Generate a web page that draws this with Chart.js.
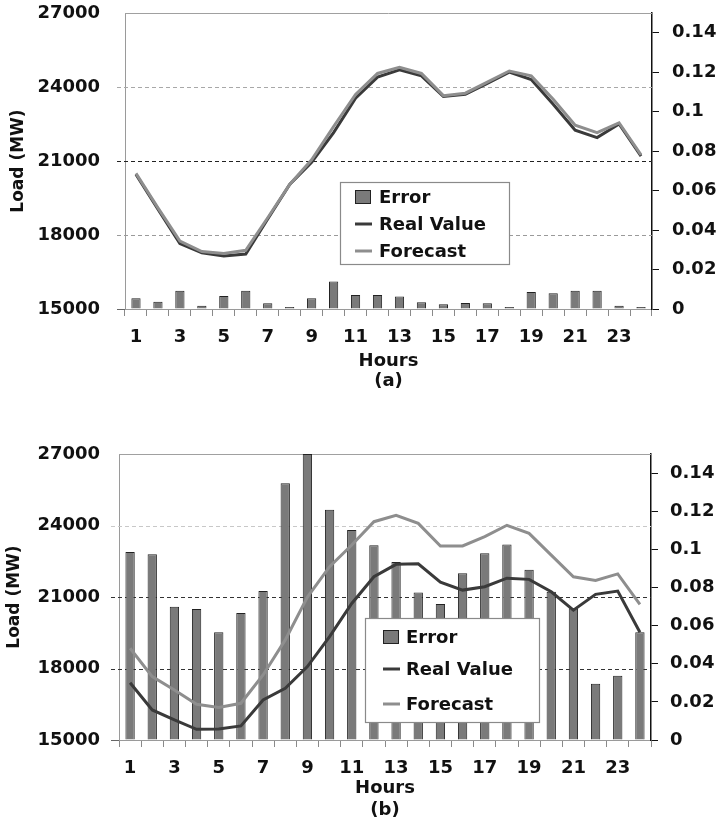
<!DOCTYPE html>
<html>
<head>
<meta charset="utf-8">
<script src="https://cdn.jsdelivr.net/npm/chart.js@4.4.1/dist/chart.umd.min.js"></script>
<style>
  html, body { margin: 0; padding: 0; background: #fff; }
  #wrap { position: relative; width: 720px; height: 826px; overflow: hidden; background: #fff; }
  canvas { position: absolute; left: 0; }
</style>
</head>
<body>
<div id="wrap">
  <canvas id="chartA" width="720" height="400" style="top:0;width:720px;height:400px"></canvas>
  <canvas id="chartB" width="720" height="406" style="top:420px;width:720px;height:406px"></canvas>
</div>
<script>
// Hours of the day (x categories)
const hours = ['1','2','3','4','5','6','7','8','9','10','11','12',
               '13','14','15','16','17','18','19','20','21','22','23','24'];

// Left axis ticks (MW) and right axis ticks (error)
const loadTicks = [15000, 18000, 21000, 24000, 27000];
const errorTicks = [0, 0.02, 0.04, 0.06, 0.08, 0.1, 0.12, 0.14];

// Panel (a)
const realA = [20450, 19050, 17650, 17280, 17150, 17230, 18650, 20050, 20950, 22150, 23550, 24400,
               24700, 24450, 23620, 23700, 24150, 24600, 24300, 23300, 22250, 21950, 22500, 21200];
const forecastA = [20500, 19100, 17750, 17330, 17250, 17380, 18700, 20050, 21050, 22400, 23700, 24550,
                   24800, 24550, 23650, 23750, 24200, 24650, 24450, 23500, 22450, 22150, 22550, 21250];
const errorA = [0.0054, 0.0037, 0.0093, 0.0017, 0.0066, 0.0093, 0.0029, 0.0010, 0.0054, 0.0139, 0.0071, 0.0071,
                0.0063, 0.0034, 0.0024, 0.0030, 0.0029, 0.0010, 0.0086, 0.0080, 0.0093, 0.0093, 0.0017, 0.0010];

// Panel (b)
const realB = [17400, 16260, 15840, 15450, 15460, 15590, 16680, 17170, 18080, 19340, 20730, 21850,
               22370, 22390, 21620, 21290, 21430, 21790, 21740, 21220, 20450, 21110, 21250, 19520];
const forecastB = [18850, 17660, 17100, 16500, 16360, 16540, 17730, 19200, 21000, 22270, 23180, 24160,
                   24430, 24090, 23140, 23140, 23530, 24010, 23670, 22760, 21850, 21690, 21970, 20690];
const errorB = [0.0986, 0.0974, 0.0699, 0.0687, 0.0565, 0.0666, 0.0781, 0.1346, 0.1500, 0.1208, 0.1101, 0.1021,
                0.0934, 0.0773, 0.0713, 0.0874, 0.0979, 0.1026, 0.0893, 0.0778, 0.0691, 0.0295, 0.0337, 0.0565];

const FONT = "'DejaVu Sans', 'Liberation Sans', sans-serif";
const INK = '#111';
const BAR_FILL = '#7a7a7a';
const BAR_EDGE = '#222';
const REAL_COLOR = '#3a3a3a';
const FORECAST_COLOR = '#8e8e8e';

// Keep label overhang from pushing the plot area around
function noScalePadding(sc) {
  sc.paddingTop = 0; sc.paddingBottom = 0; sc.paddingLeft = 0; sc.paddingRight = 0;
}

function buildChart(canvasId, s) {
  // Dashed load grid lines, left tick marks and the top frame edge
  const gridPlugin = {
    id: 'loadGrid',
    beforeDatasetsDraw(chart) {
      const { ctx, chartArea: a, scales } = chart;
      const y = scales.y;
      ctx.save();
      ctx.lineWidth = 1;
      // frame top
      ctx.strokeStyle = '#a0a0a0';
      ctx.beginPath();
      ctx.moveTo(a.left, a.top + 0.5);
      ctx.lineTo(a.right, a.top + 0.5);
      ctx.stroke();
      // tick at the baseline value
      ctx.strokeStyle = '#666';
      const yb = Math.round(y.getPixelForValue(loadTicks[0])) + 0.5;
      ctx.beginPath();
      ctx.moveTo(a.left - 8, yb);
      ctx.lineTo(a.left, yb);
      ctx.stroke();
      // inner dashed lines
      ctx.setLineDash([4, 3]);
      loadTicks.slice(1, -1).forEach((v, i) => {
        const py = Math.round(y.getPixelForValue(v)) + 0.5;
        ctx.strokeStyle = s.gridColors[i];
        ctx.beginPath();
        ctx.moveTo(a.left - 8, py);
        ctx.lineTo(a.right, py);
        ctx.stroke();
      });
      ctx.restore();
    }
  };

  // Boxed legend drawn inside the plot area
  const legendPlugin = {
    id: 'boxLegend',
    afterDatasetsDraw(chart) {
      const { ctx } = chart;
      const L = s.legend;
      ctx.save();
      ctx.fillStyle = '#fff';
      ctx.fillRect(L.x, L.y, L.w, L.h);
      ctx.strokeStyle = '#8a8a8a';
      ctx.lineWidth = 1.2;
      ctx.strokeRect(L.x + 0.5, L.y + 0.5, L.w, L.h);
      const items = [
        { text: 'Error', kind: 'bar' },
        { text: 'Real Value', kind: 'line', color: REAL_COLOR },
        { text: 'Forecast', kind: 'line', color: FORECAST_COLOR }
      ];
      ctx.font = 'bold 18px ' + FONT;
      ctx.textBaseline = 'middle';
      ctx.textAlign = 'left';
      items.forEach((it, i) => {
        const cy = L.rows[i];
        if (it.kind === 'bar') {
          ctx.fillStyle = BAR_FILL;
          ctx.fillRect(L.sx, cy - 7, 15, 13);
          ctx.strokeStyle = BAR_EDGE;
          ctx.lineWidth = 1;
          ctx.strokeRect(L.sx + 0.5, cy - 6.5, 15, 13);
        } else {
          ctx.strokeStyle = it.color;
          ctx.lineWidth = 3;
          ctx.beginPath();
          ctx.moveTo(L.sx, cy);
          ctx.lineTo(L.sx + 17, cy);
          ctx.stroke();
        }
        ctx.fillStyle = INK;
        ctx.fillText(it.text, L.tx, cy + 1);
      });
      ctx.restore();
    }
  };

  return new Chart(document.getElementById(canvasId), {
    data: {
      labels: hours,
      datasets: [
        { type: 'line', label: 'Real Value', data: s.real, yAxisID: 'y',
          borderColor: REAL_COLOR, borderWidth: 3, pointRadius: 0, tension: 0, order: 1 },
        { type: 'line', label: 'Forecast', data: s.forecast, yAxisID: 'y',
          borderColor: FORECAST_COLOR, borderWidth: 3, pointRadius: 0, tension: 0, order: 0 },
        { type: 'bar', label: 'Error', data: s.error, yAxisID: 'y1',
          backgroundColor: BAR_FILL, borderColor: BAR_EDGE, borderWidth: 1,
          categoryPercentage: 1, barPercentage: 0.42, order: 2 }
      ]
    },
    options: {
      responsive: false,
      animation: false,
      devicePixelRatio: 1,
      layout: { padding: { top: s.padTop, left: 0, right: 0, bottom: 0 } },
      plugins: { legend: { display: false }, tooltip: { enabled: false } },
      scales: {
        x: {
          type: 'category',
          offset: true,
          grid: { display: true, drawOnChartArea: false, offset: true, tickLength: 7, color: '#8a8a8a' },
          border: { color: '#9a9a9a', width: 1 },
          ticks: {
            autoSkip: false, maxRotation: 0, minRotation: 0, padding: s.xTickPad, color: INK,
            font: { family: FONT, weight: 'bold', size: 18 },
            callback: (v, i) => (i % 2 === 0 ? hours[i] : '')
          },
          title: {
            display: true, text: ['Hours', s.caption], color: INK,
            font: { family: FONT, weight: 'bold', size: 18, lineHeight: s.capLine },
            padding: { top: 0, bottom: s.capPad }
          },
          afterFit: sc => { sc.height = s.xHeight; noScalePadding(sc); }
        },
        y: {
          position: 'left',
          min: loadTicks[0], max: loadTicks[loadTicks.length - 1],
          afterBuildTicks: sc => { sc.ticks = loadTicks.map(v => ({ value: v })); },
          grid: { display: false, drawTicks: false, tickLength: 0 },
          border: { color: '#9a9a9a', width: 1 },
          ticks: { padding: s.yTickPad, color: INK, font: { family: FONT, weight: 'bold', size: 18 },
                   callback: v => String(v) },
          title: {
            display: true, text: 'Load (MW)', color: INK,
            font: { family: FONT, weight: 'bold', size: 17 },
            padding: { top: s.yTitlePad, bottom: 0 }
          },
          afterFit: sc => { sc.width = s.yWidth; noScalePadding(sc); }
        },
        y1: {
          position: 'right',
          min: 0, max: 0.15,
          afterBuildTicks: sc => { sc.ticks = errorTicks.map(v => ({ value: v })); },
          grid: { display: true, drawOnChartArea: false, drawTicks: true, tickLength: 7, color: '#111' },
          border: { color: '#111', width: 1.5 },
          ticks: { padding: s.y1TickPad, color: INK, font: { family: FONT, weight: 'bold', size: 18 },
                   callback: v => (v === 0 ? '0' : String(+v.toFixed(2))) },
          afterFit: sc => { sc.width = s.y1Width; noScalePadding(sc); }
        }
      }
    },
    plugins: [gridPlugin, legendPlugin]
  });
}

buildChart('chartA', {
  real: realA, forecast: forecastA, error: errorA, caption: '(a)',
  padTop: 13, xHeight: 91, yWidth: 125, y1Width: 68,
  xTickPad: 11, yTickPad: 25, y1TickPad: 13, yTitlePad: 8,
  capLine: '20px', capPad: 9,
  gridColors: ['#9a9a9a', '#222', '#a8a8a8'],
  legend: { x: 340, y: 182, w: 169, h: 82, rows: [197, 224, 251], sx: 355, tx: 379 }
});

buildChart('chartB', {
  real: realB, forecast: forecastB, error: errorB, caption: '(b)',
  padTop: 34, xHeight: 86, yWidth: 119, y1Width: 69,
  xTickPad: 11, yTickPad: 19, y1TickPad: 12, yTitlePad: 4,
  capLine: '22px', capPad: 5,
  gridColors: ['#333', '#333', '#c8c8c8'],
  legend: { x: 365, y: 198, w: 174, h: 104, rows: [217, 249, 284], sx: 383, tx: 406 }
});
</script>
</body>
</html>
